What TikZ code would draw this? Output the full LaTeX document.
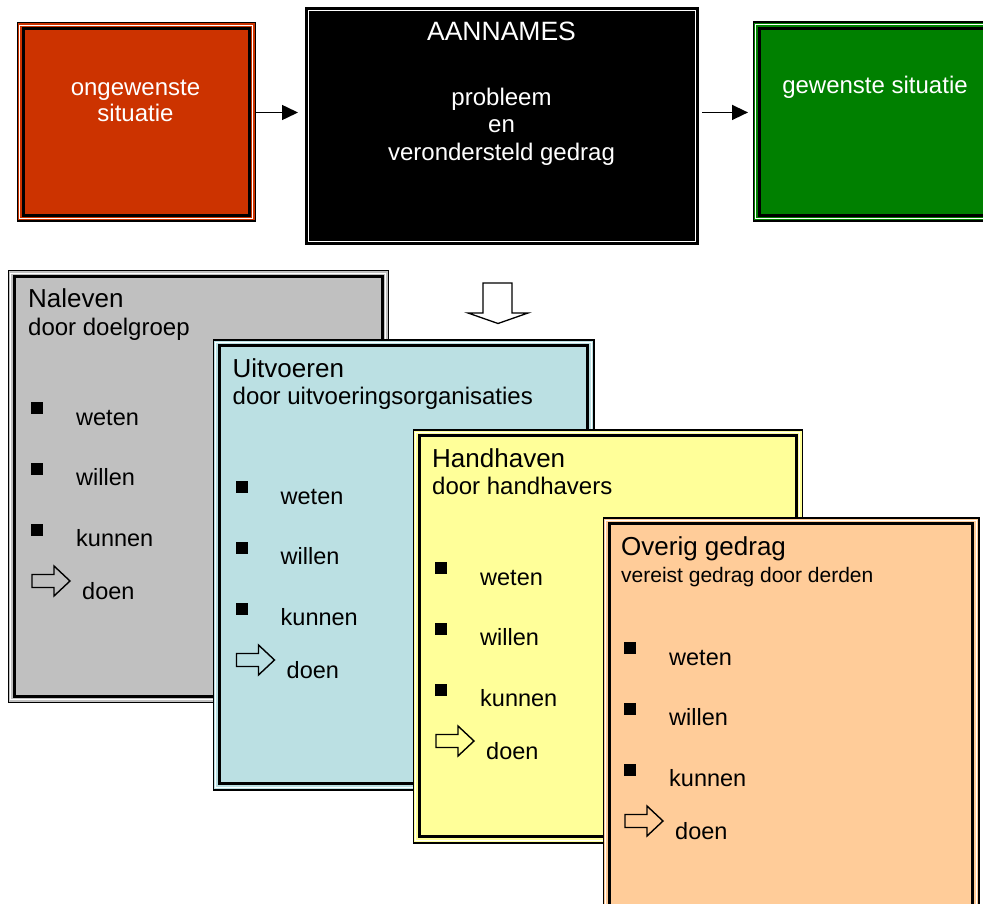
\documentclass[tikz,border=0pt]{standalone}
\usepackage{fontspec}
\setmainfont{Liberation Sans}
\usetikzlibrary{arrows.meta}
\definecolor{ongewenstcolor}{RGB}{204,51,0}
\definecolor{gewenstcolor}{RGB}{0,128,0}
\definecolor{nalevencolor}{RGB}{192,192,192}
\definecolor{uitvoerencolor}{RGB}{187,224,227}
\definecolor{handhavencolor}{RGB}{255,255,153}
\definecolor{overigcolor}{RGB}{255,204,153}

\begin{document}
\begin{tikzpicture}[
    x=1pt, y=-1pt,
    boxframe/.style={draw, line width=1.5pt, inner sep=0pt, anchor=north west,
        path picture={
            \draw[white, line width=1.2pt] ([shift={(2.4pt,2.4pt)}]path picture bounding box.south west) rectangle ([shift={(-2.4pt,-2.4pt)}]path picture bounding box.north east);
            \draw[black, line width=2.6pt] ([shift={(6pt,6pt)}]path picture bounding box.south west) rectangle ([shift={(-6pt,-6pt)}]path picture bounding box.north east);
        }},
    toptext/.style={anchor=base, inner sep=0pt, text=white, font=\fontsize{24}{28}\selectfont},
    heading/.style={anchor=base west, inner sep=0pt, font=\fontsize{26}{30}\selectfont},
    itemtext/.style={anchor=base west, inner sep=0pt, font=\fontsize{23.5}{28}\selectfont},
    bulletsq/.style={fill=black, inner sep=0pt, minimum size=12.3pt},
    arrow/.style={-{Triangle[length=16pt, width=15pt]}, line width=1.5pt},
    hollowarrow/.pic={
        \draw[line width=1.4pt] (0,-6.5) -- (22,-6.5) -- (22,-15) -- (38,0) -- (22,15) -- (22,6.5) -- (0,6.5) -- cycle;
    }
]
    \path[use as bounding box, clip] (0,0) rectangle (983,904);

    % Top row
    \node[boxframe, fill=ongewenstcolor, minimum width=238pt, minimum height=198.5pt] (ongewenst) at (16.5,22) {};
    \node[boxframe, fill=black, minimum width=392pt, minimum height=236pt] (aannames) at (305,7.5) {};
    \node[boxframe, fill=gewenstcolor, minimum width=247.5pt, minimum height=199pt] (gewenst) at (752.5,21.5) {};

    \node[toptext] (t-ongewenst1) at (135.5,95.5) {ongewenste};
    \node[toptext] (t-ongewenst2) at (135.5,121.5) {situatie};
    \node[toptext, font=\fontsize{26.5}{30}\selectfont] (t-aannames) at (501.5,41) {AANNAMES};
    \node[toptext] (t-probleem) at (501.5,105.5) {probleem};
    \node[toptext] (t-en) at (501.5,132.5) {en};
    \node[toptext] (t-gedrag) at (501.5,160.5) {verondersteld gedrag};
    \node[toptext] (t-gewenst) at (875,93.5) {gewenste situatie};

    % Connections
    \draw[arrow, shorten >=7pt] ([yshift=9.5pt]ongewenst.east) -- ([yshift=9.5pt]ongewenst.east -| aannames.west);
    \draw[arrow, shorten <=3.5pt, shorten >=4.5pt] ([yshift=13.8pt]aannames.east) -- ([yshift=13.8pt]aannames.east -| gewenst.west);

    % Hollow down arrow
    \draw[line width=1.3pt] (483,283) -- (512,283) -- (512,313) -- (528,313) -- (498,323.5) -- (468,313) -- (483,313) -- cycle;

    % Cards
    \foreach \naam/\kleur/\xl/\yt/\breed/\hoog/\kop/\sub/\subfs/\bx/\wy in {
        naleven/nalevencolor/7.5/270/380/431.5/Naleven/door doelgroep/24/31/425,
        uitvoeren/uitvoerencolor/212.5/339/380.5/450/Uitvoeren/door uitvoeringsorganisaties/24/235.5/504,
        handhaven/handhavencolor/412.5/429/389/413/Handhaven/door handhavers/24/435/585,
        overig/overigcolor/602.5/517/375.5/430/Overig gedrag/vereist gedrag door derden/21/624/665} {
        \node[boxframe, fill=\kleur, minimum width=\breed pt, minimum height=\hoog pt] (\naam) at (\xl,\yt) {};
        \node[heading] (\naam-kop) at (\bx-3,\yt+38) {\kop};
        \node[heading, font=\fontsize{\subfs}{28}\selectfont] (\naam-sub) at (\bx-3,\yt+65) {\sub};
        \foreach \woord [count=\i from 0] in {weten, willen, kunnen} {
            \node[bulletsq] (\naam-b\i) at (\bx+6.3,\wy-17+60.85*\i) {};
            \node[itemtext] (\naam-t\i) at (\bx+45,\wy+60.85*\i) {\woord};
        }
        \pic at (\bx+1,\wy+156) {hollowarrow};
        \node[itemtext] (\naam-doen) at (\bx+51,\wy+174.5) {doen};
    }
\end{tikzpicture}
\end{document}
